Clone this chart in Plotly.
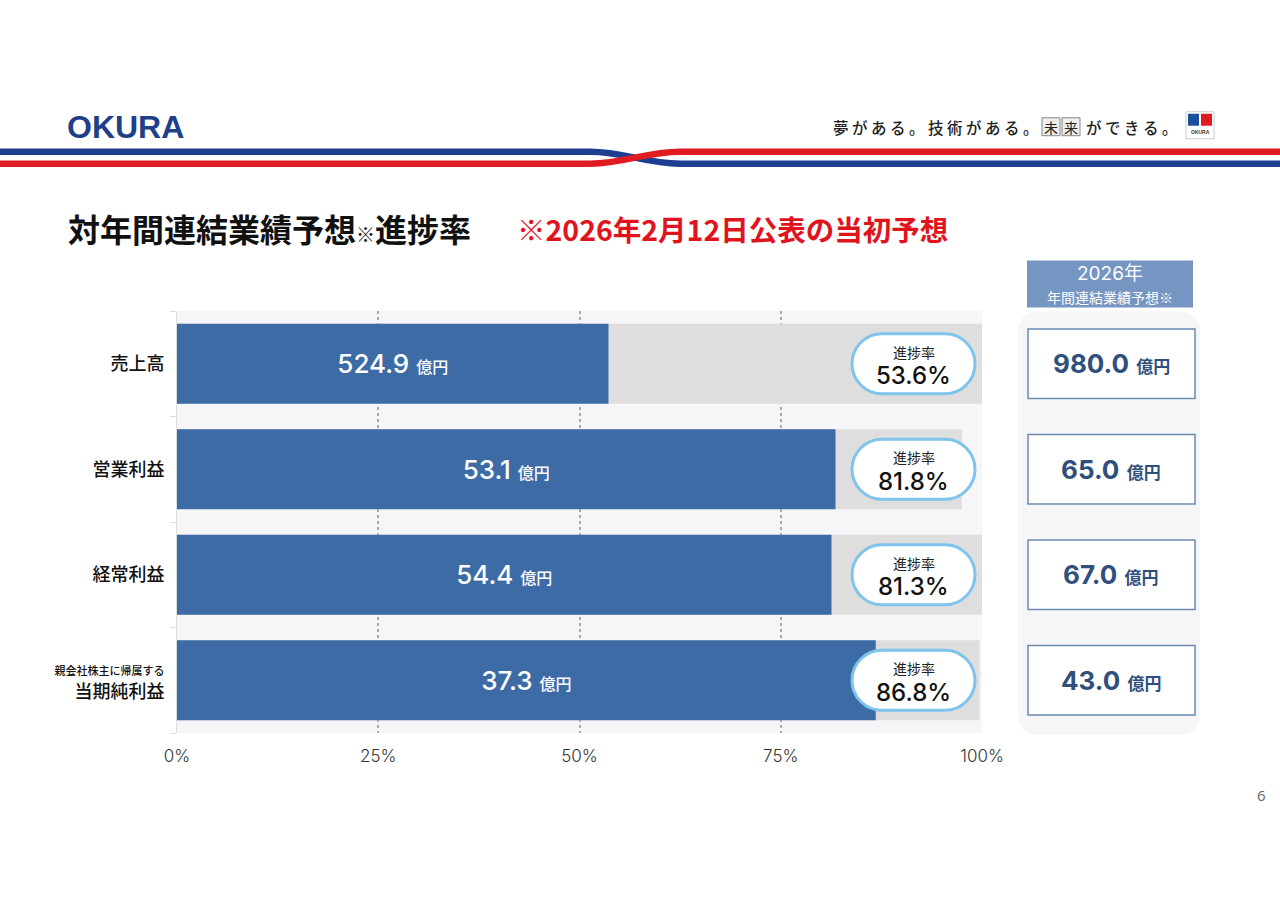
import plotly.graph_objects as go

# ---------------- data ----------------
categories = ["売上高", "営業利益", "経常利益", "当期純利益"]
tick_labels = ["売上高", "営業利益", "経常利益",
               "<span style='font-size:11px'>親会社株主に帰属する</span><br>当期純利益"]
actual = [524.9, 53.1, 54.4, 37.3]          # 億円
forecast = [980.0, 65.0, 67.0, 43.0]        # 億円 (2026年 年間連結業績予想)
progress = [53.6, 81.8, 81.3, 86.8]         # 進捗率 %
track = [100, 97.5, 100, 99.7]              # gray background bar length
x_ticks = [0, 25, 50, 75, 100]
x_tick_labels = ["0%", "25%", "50%", "75%", "100%"]

# ---------------- layout geometry (pixels) ----------------
W, H = 1280, 905
L, R, T, B = 177, 982, 310.5, 733
JP = "Noto Sans CJK JP"
NUM = "Inter, Noto Sans CJK JP"


def px(xp):
    return (xp - L) / (R - L)


def py(yp):
    return (B - yp) / (B - T)


BLUE = "#3d6ba6"
TRACK = "#dedede"

fig = go.Figure()
fig.add_trace(go.Bar(
    y=categories, x=track, orientation="h", width=0.757,
    marker=dict(color=TRACK, line=dict(width=0)),
    hoverinfo="skip", showlegend=False))
fig.add_trace(go.Bar(
    y=categories, x=progress, orientation="h", width=0.757,
    marker=dict(color=BLUE, line=dict(width=0)),
    text=[f"{v:.1f} <span style='font-size:16px'>億円</span>" for v in actual],
    textposition="inside", insidetextanchor="middle",
    textfont=dict(family=NUM, size=26, color="white", weight=500),
    constraintext="none",
    hoverinfo="skip", showlegend=False))

shapes = []
annotations = []

# ---------- header ----------
shapes.append(dict(type="path", xref="paper", yref="paper",
                   path=f"M {px(-5)},{py(151)} L {px(590)},{py(151)} C {px(625)},{py(151)} {px(645)},{py(163)} {px(680)},{py(163)} L {px(1285)},{py(163)}",
                   line=dict(color="#1d3f8f", width=6.5), layer="above"))
shapes.append(dict(type="path", xref="paper", yref="paper",
                   path=f"M {px(-5)},{py(163)} L {px(590)},{py(163)} C {px(625)},{py(163)} {px(645)},{py(151)} {px(680)},{py(151)} L {px(1285)},{py(151)}",
                   line=dict(color="#e01b22", width=6.5), layer="above"))
annotations.append(dict(xref="paper", yref="paper", x=px(65), y=py(126), xanchor="left", yanchor="middle",
                        text="<b>OKURA</b>", showarrow=False,
                        font=dict(family="Liberation Sans", size=32, color="#1f3f8a", weight=900)))
annotations.append(dict(xref="paper", yref="paper", x=px(1040), y=py(126), xanchor="right", yanchor="middle",
                        text=" ".join("夢がある。技術がある。"), showarrow=False,
                        font=dict(family=JP, size=15.5, color="#222", weight=500)))
for cx, ch in [(1051, "未"), (1071, "来")]:
    shapes.append(dict(type="rect", xref="paper", yref="paper",
                       x0=px(cx - 9), x1=px(cx + 9), y0=py(135), y1=py(117),
                       line=dict(color="#888", width=1), fillcolor="#eeeeee", layer="above"))
    annotations.append(dict(xref="paper", yref="paper", x=px(cx), y=py(126), xanchor="center", yanchor="middle",
                            text=ch, showarrow=False, font=dict(family=JP, size=14, color="#222")))
annotations.append(dict(xref="paper", yref="paper", x=px(1084), y=py(126), xanchor="left", yanchor="middle",
                        text=" ".join("ができる。"), showarrow=False,
                        font=dict(family=JP, size=15.5, color="#222", weight=500)))
shapes.append(dict(type="rect", xref="paper", yref="paper", x0=px(1186), x1=px(1214), y0=py(138), y1=py(111),
                   line=dict(color="#cccccc", width=1), fillcolor="white", layer="above"))
shapes.append(dict(type="rect", xref="paper", yref="paper", x0=px(1188), x1=px(1199), y0=py(125), y1=py(113),
                   line=dict(width=0), fillcolor="#1d4f9f", layer="above"))
shapes.append(dict(type="rect", xref="paper", yref="paper", x0=px(1201), x1=px(1212), y0=py(125), y1=py(113),
                   line=dict(width=0), fillcolor="#e01b22", layer="above"))
annotations.append(dict(xref="paper", yref="paper", x=px(1200), y=py(131.5), xanchor="center", yanchor="middle",
                        text="<b>OKURA</b>", showarrow=False,
                        font=dict(family="Liberation Sans", size=5, color="#333")))

# ---------- titles ----------
annotations.append(dict(xref="paper", yref="paper", x=px(66), y=py(227), xanchor="left", yanchor="middle",
                        text="対年間連結業績予想<span style='font-size:19px'>※</span>進捗率", showarrow=False,
                        font=dict(family=JP, size=32, color="#111", weight=700)))
annotations.append(dict(xref="paper", yref="paper", x=px(515), y=py(228), xanchor="left", yanchor="middle",
                        text="※2026年2月12日公表の当初予想", showarrow=False,
                        font=dict(family=JP, size=28.5, color="#e0141c", weight=700)))

# ---------- right panel ----------
pw, ph, pr = 182, 424, 20
k = 0.5523 * pr
hx, hy = pw / 2, ph / 2
panel_path = (f"M {-hx + pr},{-hy} L {hx - pr},{-hy} C {hx - pr + k},{-hy} {hx},{-hy + pr - k} {hx},{-hy + pr} "
              f"L {hx},{hy - pr} C {hx},{hy - pr + k} {hx - pr + k},{hy} {hx - pr},{hy} "
              f"L {-hx + pr},{hy} C {-hx + pr - k},{hy} {-hx},{hy - pr + k} {-hx},{hy - pr} "
              f"L {-hx},{-hy + pr} C {-hx},{-hy + pr - k} {-hx + pr - k},{-hy} {-hx + pr},{-hy} Z")
shapes.append(dict(type="path", xref="paper", yref="paper", xsizemode="pixel", ysizemode="pixel",
                   xanchor=px(1109), yanchor=py(523), path=panel_path,
                   fillcolor="#f6f6f8", line=dict(width=0), layer="below"))
shapes.append(dict(type="rect", xref="paper", yref="paper", x0=px(1027), x1=px(1193), y0=py(307), y1=py(260),
                   fillcolor="#7596c2", line=dict(width=0), layer="above"))
annotations.append(dict(xref="paper", yref="paper", x=px(1110), y=py(273), xanchor="center", yanchor="middle",
                        text="2026年", showarrow=False, font=dict(family=NUM, size=19, color="white")))
annotations.append(dict(xref="paper", yref="paper", x=px(1110), y=py(296), xanchor="center", yanchor="middle",
                        text="年間連結業績予想※", showarrow=False, font=dict(family=JP, size=14, color="white")))

for i, (cat, fv) in enumerate(zip(categories, forecast)):
    shapes.append(dict(type="rect", xref="paper", yref="y", x0=px(1028), x1=px(1195),
                       y0=i - 0.33, y1=i + 0.33, fillcolor="white",
                       line=dict(color="#6b8bb2", width=1.5), layer="above"))
    annotations.append(dict(xref="paper", yref="y", x=px(1111), y=cat, xanchor="center", yanchor="middle",
                            text=f"<b>{fv:.1f}</b> <b><span style='font-size:17px'>億円</span></b>",
                            showarrow=False, font=dict(family=NUM, size=26, color="#2f4f7d")))

# ---------- progress pills ----------
w2, h2, r2 = 61.5, 30, 30
k2 = 0.5523 * r2
pill = (f"M {-w2 + r2},{-h2} L {w2 - r2},{-h2} C {w2 - r2 + k2},{-h2} {w2},{-k2} {w2},0 "
        f"C {w2},{k2} {w2 - r2 + k2},{h2} {w2 - r2},{h2} L {-w2 + r2},{h2} "
        f"C {-w2 + r2 - k2},{h2} {-w2},{k2} {-w2},0 C {-w2},{-k2} {-w2 + r2 - k2},{-h2} {-w2 + r2},{-h2} Z")
pill_x = (913.5 - L) / (R - L) * 100
for cat, p in zip(categories, progress):
    shapes.append(dict(type="path", xref="x", yref="y", xsizemode="pixel", ysizemode="pixel",
                       xanchor=pill_x, yanchor=cat, path=pill, fillcolor="white",
                       line=dict(color="#7ec4ec", width=3), layer="above"))
    annotations.append(dict(xref="x", yref="y", x=pill_x, y=cat, yshift=12, xanchor="center", yanchor="middle",
                            text="進捗率", showarrow=False, font=dict(family=JP, size=14, color="#222")))
    annotations.append(dict(xref="x", yref="y", x=pill_x, y=cat, yshift=-12, xanchor="center", yanchor="middle",
                            text=f"{p:.1f}%", showarrow=False,
                            font=dict(family=NUM, size=24, color="#111", weight=500)))

annotations.append(dict(xref="paper", yref="paper", x=px(1268), y=py(795), xanchor="right", yanchor="middle",
                        text="6", showarrow=False, font=dict(family="Open Sans", size=15, color="#666")))

fig.update_layout(
    width=W, height=H, autosize=False,
    margin=dict(l=L, r=W - R, t=T, b=H - B, pad=0),
    paper_bgcolor="white", plot_bgcolor="#f6f6f8",
    barmode="overlay", bargap=0.243,
    shapes=shapes, annotations=annotations,
    xaxis=dict(range=[0, 100], tickvals=x_ticks, ticktext=x_tick_labels,
               showgrid=True, gridcolor="#aaaaaa", griddash="dot", gridwidth=1.5,
               zeroline=False, showline=False, ticks="outside", ticklen=8,
               tickcolor="rgba(0,0,0,0)", tickfont=dict(family="Inter", size=17, color="#333", weight=300),
               fixedrange=True),
    yaxis=dict(categoryorder="array", categoryarray=categories, tickvals=categories, ticktext=tick_labels,
               autorange="reversed", showgrid=False, zeroline=False,
               showline=True, linecolor="#dddddd", linewidth=1,
               ticks="outside", tickson="boundaries", ticklen=6, tickcolor="#dddddd",
               ticklabelstandoff=8,
               tickfont=dict(family=JP, size=18, color="#111", weight=500), fixedrange=True),
    hovermode=False,
)

fig.write_html("out.html", config={"displayModeBar": False},
               post_script="document.body.style.margin='0';document.body.style.overflow='hidden';")
